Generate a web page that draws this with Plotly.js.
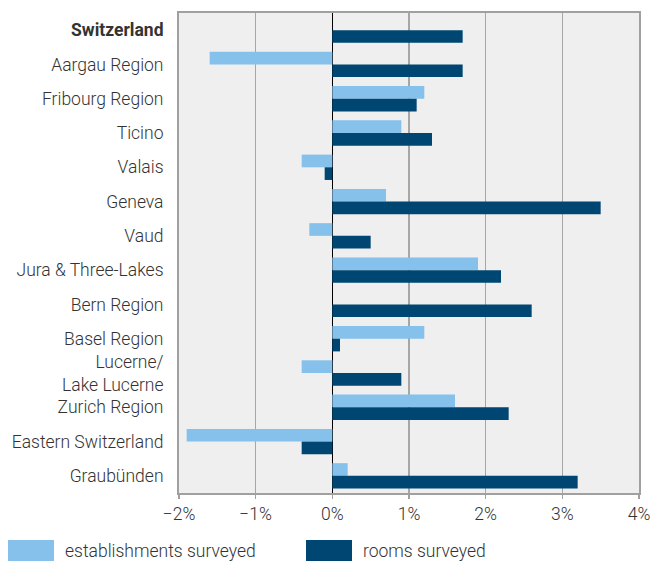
<!DOCTYPE html>
<html><head><meta charset="utf-8">
<script src="https://cdn.plot.ly/plotly-3.0.1.min.js"></script>
<style>html,body{margin:0;padding:0;background:#fff;}#chart{width:652px;height:561px;}</style>
</head><body><div id="chart"></div>
<script>
const categories = ["<b>Switzerland</b>","Aargau Region","Fribourg Region","Ticino","Valais","Geneva","Vaud","Jura & Three-Lakes","Bern Region","Basel Region","Lucerne/<br>Lake Lucerne","Zurich Region","Eastern Switzerland","Graubünden"];
const establishments = [0, -1.6, 1.2, 0.9, -0.4, 0.7, -0.3, 1.9, 0, 1.2, -0.4, 1.6, -1.9, 0.2];
const rooms = [1.7, 1.7, 1.1, 1.3, -0.1, 3.5, 0.5, 2.2, 2.6, 0.1, 0.9, 2.3, -0.4, 3.2];
const seriesNames = ["establishments surveyed","rooms surveyed"];
const seriesColors = ["#85c1eb","#004672"];
const xTicks = [-2,-1,0,1,2,3,4];
const xTickLabels = ["−2%","−1%","0%","1%","2%","3%","4%"];

const font = {family:"Roboto, sans-serif", size:17.5, color:"#333333", weight:300};
const traces = [establishments, rooms].map((vals,i)=>({
  type:"bar", orientation:"h", y:categories, x:vals, name:seriesNames[i],
  marker:{color:seriesColors[i], line:{width:0}}, hoverinfo:"x+y"
}));

// legend drawn as paper-positioned swatches + labels (pixel positions converted to paper units)
const plotL = 179, plotW = 460, plotB = 493, plotH = 480;
const legX = [8, 306];
const shapes = seriesNames.map((n,i)=>({type:"rect", xref:"paper", yref:"paper",
  x0:(legX[i]-plotL)/plotW, x1:(legX[i]+46-plotL)/plotW,
  y0:(plotB-561)/plotH, y1:(plotB-540)/plotH, fillcolor:seriesColors[i], line:{width:0}}));
const annotations = seriesNames.map((n,i)=>({xref:"paper", yref:"paper",
  x:(legX[i]+56-plotL)/plotW, y:(plotB-550.5)/plotH, xanchor:"left", yanchor:"middle",
  text:n, showarrow:false, borderpad:0, font:font}));

const layout = {
  width:652, height:561,
  margin:{l:179, r:13, t:13, b:68, pad:0},
  paper_bgcolor:"#ffffff", plot_bgcolor:"#efefef",
  font:font,
  barmode:"group", bargap:0.26, bargroupgap:0,
  showlegend:false,
  xaxis:{range:[-2,4], tickvals:xTicks, ticktext:xTickLabels, showgrid:true, gridcolor:"#a6a6a6", gridwidth:1.5,
    zeroline:true, zerolinecolor:"#000000", zerolinewidth:1.5, showline:true, linecolor:"#a0a0a0", linewidth:2, mirror:true,
    ticks:"outside", ticklen:4, tickwidth:1.5, tickcolor:"#a0a0a0", tickfont:font, fixedrange:true},
  yaxis:{type:"category", autorange:"reversed", showgrid:false, showline:true, linecolor:"#a0a0a0", linewidth:2, mirror:true,
    ticks:"", ticklabelstandoff:10, tickfont:font, fixedrange:true},
  shapes:shapes, annotations:annotations
};
Plotly.newPlot("chart", traces, layout, {displayModeBar:false, staticPlot:true});
</script></body></html>
